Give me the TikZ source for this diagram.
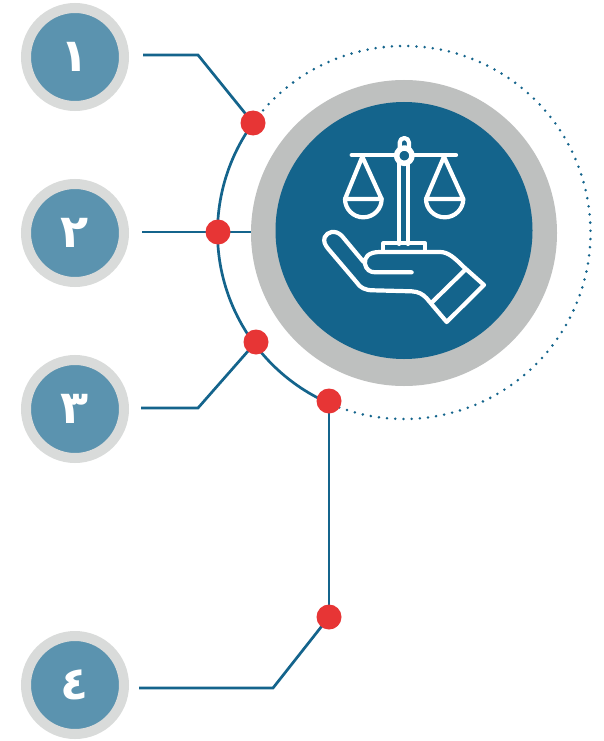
\documentclass[tikz,border=0pt]{standalone}
\usepackage{fontspec}
\usetikzlibrary{backgrounds}
\TeXXeTstate=1
\newfontfamily\arabicfont[Script=Arabic]{DejaVu Sans}
\definecolor{deepblue}{HTML}{14648C}
\definecolor{softblue}{HTML}{5B93AF}
\definecolor{ringgray}{HTML}{BEC0BF}
\definecolor{palegray}{HTML}{D9DBDA}
\definecolor{dotred}{HTML}{E73535}
\tikzset{
  numdisc/.style={circle,draw=palegray,line width=10pt,fill=softblue,minimum size=98pt,inner sep=0pt,text=white,font=\arabicfont\bfseries\fontsize{46}{46}\selectfont},
  reddot/.style={circle,fill=dotred,minimum size=25pt,inner sep=0pt},
  link/.style={draw=deepblue,line width=2.7pt,line join=miter},
  icon/.style={draw=white,line width=4.2pt,line cap=round,line join=round},
}
\begin{document}
\begin{tikzpicture}[x=1pt,y=-1pt]
\useasboundingbox (0,0) rectangle (603,741);
% central disc
\node[circle,fill=ringgray,minimum size=306pt,inner sep=0pt] (ring) at (404,233) {};
\node[circle,fill=deepblue,minimum size=257pt,inner sep=0pt] (hub) at (404,230.5) {};
\coordinate (orbit) at (404,232.5);
% numbered discs
\node[numdisc] (n1) at (75,57) {\beginR ١\endR};
\node[numdisc] (n2) at (75,233) {\beginR ٢\endR};
\node[numdisc] (n3) at (75,409) {\beginR ٣\endR};
\node[numdisc] (n4) at (75,685) {\beginR ٤\endR};
% red dots
\node[reddot] (d1) at (253,123) {};
\node[reddot] (d2) at (218,232) {};
\node[reddot] (d3) at (256,342) {};
\node[reddot] (d4) at (329,401) {};
\node[reddot] (d5) at (329,617) {};
% connector ends
\coordinate (s1) at (143,55);
\coordinate (b1) at (198,55);
\coordinate (s2) at (142,232);
\coordinate (e2) at (251,232);
\coordinate (s3) at (141,408);
\coordinate (b3) at (198,408);
\coordinate (s4) at (139,688);
\coordinate (b4) at (273,688);
\begin{scope}[on background layer]
  \fill[white] (0,0) rectangle (603,741);
  \draw[link] ([shift={(215.9:186.5)}]orbit) arc[start angle=215.9,end angle=114,radius=186.5];
  \draw[deepblue,line width=2.8pt,line cap=round,dash pattern=on 0pt off 8.2pt] ([shift={(215.9:186.5)}]orbit) arc[start angle=215.9,end angle=474,radius=186.5];
  \draw[link] (s1) -- (b1) -- (d1.center);
  \draw[link] (s2) -- (e2);
  \draw[link] (s3) -- (b3) -- (d3.center);
  \draw[link] (s4) -- (b4) -- (d5.center);
  \draw[link] (d5.center) -- (d4.center);
\end{scope}
% icon: scales and hand, in coordinates of a 3x grid
\begin{scope}[shift={(300,120)},x=0.3333pt,y=-0.3333pt,icon]
  % beam
  \draw (155,105) -- (468,105);
  % pillar and base
  \draw (298,125) -- (298,372) (324,125) -- (324,372);
  \draw (250,395) -- (250,370) -- (375,370) -- (375,395);
  % top loop and pivot
  \draw[fill=deepblue] (299,85) -- (299,68) arc[start angle=180,end angle=360,radius=14] -- (327,85);
  \draw[fill=deepblue,line width=5.5pt] (313,107) circle[radius=23];
  % left pan
  \draw (187,110) -- (135,237) -- (245,237) -- cycle;
  \draw (135,237) arc[start angle=180,end angle=360,x radius=55,y radius=-55];
  % right pan
  \draw (432,110) -- (378,237) -- (490,237) -- cycle;
  \draw (378,237) arc[start angle=180,end angle=360,x radius=56,y radius=-55];
  % hand
  \draw (190,425) -- (125,347) .. controls (105,328) and (82,335) .. (74,352) .. controls (70,365) and (75,375) .. (85,387)
    -- (170,487) .. controls (180,503) and (195,511) .. (220,511)
    -- (335,514) .. controls (355,515) and (368,522) .. (380,535)
    -- (440,606) -- (552,495) -- (490,440)
    .. controls (465,415) and (445,396) .. (420,396)
    -- (240,396) .. controls (205,396) and (192,412) .. (195,432)
    .. controls (198,448) and (210,457) .. (225,457) -- (335,457);
  \draw (395,548) -- (495,450);
\end{scope}
\end{tikzpicture}
\end{document}
